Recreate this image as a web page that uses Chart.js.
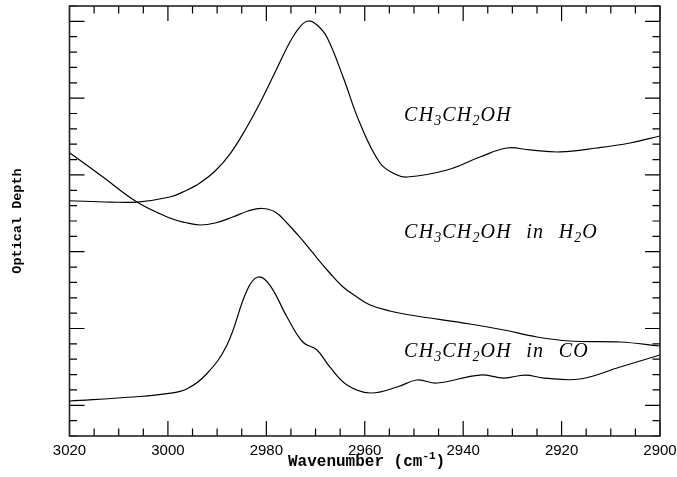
<!DOCTYPE html>
<html>
<head>
<meta charset="utf-8">
<script src="https://cdn.jsdelivr.net/npm/chart.js@4.4.1/dist/chart.umd.min.js"></script>
<style>
  html, body { margin: 0; padding: 0; background: #fff; }
  #wrap { width: 677px; height: 477px; }
</style>
</head>
<body>
<div id="wrap"><canvas id="irChart" width="677" height="477"></canvas></div>
<script>
// data (wavenumber in cm-1, optical depth in arbitrary offset units)
const pureX = [3020, 3011.8, 3006.3, 2999.6, 2996.5, 2993.5, 2990.4, 2987.4, 2984.3, 2981.3, 2978.2, 2975.2,
    2973.2, 2971.5, 2969.7, 2967.7, 2964.4, 2961.0, 2956.9, 2953.9, 2951.4, 2943.3, 2936.6, 2931.1, 2926.4,
    2920.3, 2912.8, 2906.1, 2900];
const pureY = [2.664, 2.647, 2.647, 2.713, 2.791, 2.895, 3.051, 3.272, 3.585, 3.937, 4.340, 4.731,
    4.926, 5.005, 4.952, 4.796, 4.275, 3.676, 3.155, 3.012, 2.973, 3.064, 3.233, 3.351, 3.325,
    3.299, 3.351, 3.416, 3.507];

const waterX = [3020, 3013.2, 3006.3, 2999.6, 2996.5, 2993.5, 2990.4, 2986.8, 2983.7, 2980.9, 2978.2, 2975.8,
    2973.6, 2971.5, 2969.7, 2967.1, 2964.4, 2961.6, 2958.9, 2954.9, 2950.8, 2938.6, 2931.7, 2925.0, 2918.3,
    2908.1, 2900];
const waterY = [3.289, 2.973, 2.647, 2.439, 2.380, 2.348, 2.374, 2.452, 2.530, 2.563, 2.517, 2.374,
    2.218, 2.061, 1.918, 1.723, 1.540, 1.410, 1.306, 1.228, 1.176, 1.059, 0.980, 0.889, 0.837,
    0.824, 0.772];

const coX = [3020, 3007.1, 3000.2, 2996.1, 2992.1, 2988.0, 2983.9, 2981.7, 2979.3, 2975.8,
    2972.6, 2969.7, 2967.1, 2963.6, 2958.9, 2953.4, 2949.4, 2945.3, 2936.6, 2931.7, 2927.4, 2923.6, 2916.3,
    2908.1, 2900];
const coY = [0.056, 0.108, 0.151, 0.216, 0.411, 0.785, 1.501, 1.671, 1.566, 1.150,
    0.824, 0.720, 0.499, 0.264, 0.160, 0.238, 0.329, 0.290, 0.394, 0.355, 0.394, 0.355, 0.342,
    0.499, 0.655];

const xTicks = [3020, 3000, 2980, 2960, 2940, 2920, 2900];
const curveLabels = ["CH_3CH_2OH", "CH_3CH_2OH in H_2O", "CH_3CH_2OH in CO"];

const toPoints = (xs, ys) => xs.map((x, i) => ({ x: x, y: ys[i] }));

// inward ticks on all four sides + frame + text labels
const decorations = {
    id: "decorations",
    afterDatasetsDraw(chart, args, opts) {
        const { ctx, chartArea: { left, top, right, bottom }, scales: { x, y } } = chart;
        ctx.save();
        ctx.strokeStyle = "#000";
        ctx.lineWidth = 1.2;
        ctx.beginPath();
        for (let v = 2900; v <= 3020; v += 5) {
            const px = x.getPixelForValue(v);
            const len = v % 20 === 0 ? 15 : 7.5;
            ctx.moveTo(px, bottom); ctx.lineTo(px, bottom - len);
            ctx.moveTo(px, top); ctx.lineTo(px, top + len);
        }
        for (let k = -2; k <= 26; k++) {
            const v = k * 0.2;
            const py = y.getPixelForValue(v);
            if (py > bottom + 0.5 || py < top - 0.5) continue;
            const len = k % 5 === 0 ? 15 : 7.5;
            ctx.moveTo(left, py); ctx.lineTo(left + len, py);
            ctx.moveTo(right, py); ctx.lineTo(right - len, py);
        }
        ctx.stroke();
        ctx.lineWidth = 1.6;
        ctx.strokeStyle = "#222";
        ctx.strokeRect(left, top, right - left, bottom - top);

        // axis titles
        ctx.fillStyle = "#000";
        ctx.font = "bold 16px 'Liberation Mono', monospace";
        ctx.textBaseline = "alphabetic";
        ctx.textAlign = "left";
        const t1 = "Wavenumber (cm";
        let tx = 288;
        ctx.fillText(t1, tx, 466);
        tx += ctx.measureText(t1).width;
        ctx.font = "bold 11px 'Liberation Mono', monospace";
        ctx.fillText("-1", tx, 459);
        tx += ctx.measureText("-1").width;
        ctx.font = "bold 16px 'Liberation Mono', monospace";
        ctx.fillText(")", tx, 466);

        ctx.save();
        ctx.translate(21, 221);
        ctx.rotate(-Math.PI / 2);
        ctx.font = "bold 13.5px 'Liberation Mono', monospace";
        ctx.textAlign = "center";
        ctx.fillText("Optical Depth", 0, 0);
        ctx.restore();

        // curve labels, with _d subscripts
        opts.spots.forEach((s, i) => {
            let cx = x.getPixelForValue(s.x);
            const by = y.getPixelForValue(s.y);
            const words = curveLabels[i].split(" ");
            words.forEach((w) => {
                const bits = w.split(/(_\d)/).filter(b => b.length);
                bits.forEach(b => {
                    if (b[0] === "_") {
                        ctx.font = "italic 14px 'Liberation Serif', serif";
                        ctx.fillText(b.slice(1), cx, by + 4);
                        cx += ctx.measureText(b.slice(1)).width + 1;
                    } else {
                        ctx.font = "italic 20px 'Liberation Serif', serif";
                        for (const ch of b) {
                            ctx.fillText(ch, cx, by);
                            cx += ctx.measureText(ch).width + 1.2;
                        }
                    }
                });
                cx += 14.5;
            });
        });
        ctx.restore();
    },
};

const lineStyle = {
    borderColor: "#000",
    borderWidth: 1.2,
    pointRadius: 0,
    fill: false,
    tension: 0.4,
};

const config = {
    type: "line",
    data: {
        datasets: [
            { label: "CH3CH2OH", data: toPoints(pureX, pureY), ...lineStyle },
            { label: "CH3CH2OH in H2O", data: toPoints(waterX, waterY), ...lineStyle },
            { label: "CH3CH2OH in CO", data: toPoints(coX, coY), ...lineStyle },
        ],
    },
    options: {
        responsive: false,
        animation: false,
        events: [],
        layout: { padding: { left: 69.5, right: 17, top: 6, bottom: 11 } },
        plugins: {
            legend: { display: false },
            tooltip: { enabled: false },
            decorations: {
                spots: [
                    { x: 2952.0, y: 3.70 },
                    { x: 2952.0, y: 2.175 },
                    { x: 2952.0, y: 0.633 },
                ],
            },
        },
        scales: {
            x: {
                type: "linear",
                reverse: true,
                min: 2900,
                max: 3020,
                afterBuildTicks: (axis) => { axis.ticks = xTicks.map(v => ({ value: v })); },
                afterFit: (axis) => { axis.paddingLeft = 0; axis.paddingRight = 0; },
                ticks: {
                    autoSkip: false,
                    maxRotation: 0,
                    padding: 6,
                    color: "#000",
                    font: { family: "'Liberation Sans', Arial, sans-serif", size: 15 },
                    callback: (v) => String(v),
                },
                grid: { display: false, drawTicks: false },
                border: { display: false },
            },
            y: {
                display: false,
                min: -0.4,
                max: 5.2,
            },
        },
    },
    plugins: [decorations],
};

var ctx = document.getElementById("irChart").getContext("2d");
var irChart = new Chart(ctx, config);
</script>
</body>
</html>
